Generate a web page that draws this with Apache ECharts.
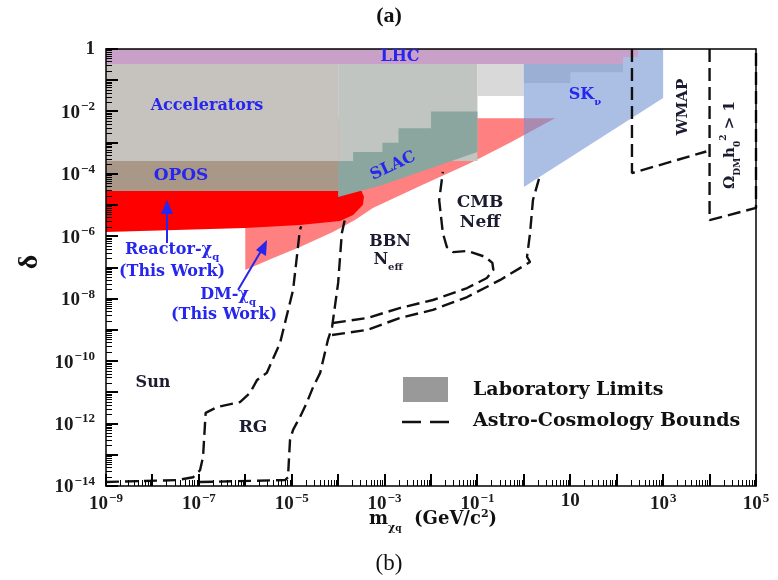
<!DOCTYPE html>
<html><head><meta charset="utf-8">
<script src="https://cdn.jsdelivr.net/npm/echarts@6/dist/echarts.min.js"></script>
<style>html,body{margin:0;padding:0;background:#fff}#c{width:778px;height:580px}</style>
</head><body><div id="c"></div>
<script>
// ---------- axes ----------
const xMin = 1e-9, xMax = 1e5, yMin = 1e-14, yMax = 1;
const xLabelExps = [-9, -7, -5, -3, -1, 1, 3, 5];
const yLabelExps = [0, -2, -4, -6, -8, -10, -12, -14];

// ---------- laboratory limits: [mass (GeV/c^2), delta] ----------
const lhcRegion = [[1e-9,1],[287,1],[287,0.55],[136,0.55],[136,0.33],[1e-9,0.33]];
const acceleratorsRegion = [[1e-9,0.33],[1e-4,0.33],[1e-4,2.6e-4],[1e-9,2.6e-4]];
const oposRegion = [[1e-9,2.6e-4],[1e-4,2.6e-4],[1e-4,2.8e-5],[1e-9,2.8e-5]];
const slacUpperRegion = [[1e-4,0.33],[0.1,0.33],[0.1,2.6e-4],[1e-4,2.6e-4]];
const slacRegion = [[1e-4,2.6e-4],[2.1e-4,2.6e-4],[2.1e-4,5e-4],[9e-4,5e-4],[9e-4,1e-3],[2e-3,1e-3],[2e-3,2.9e-3],[1e-2,2.9e-3],[1e-2,1e-2],[0.1,1e-2],[0.1,5e-4],[9e-4,4.4e-5],[1e-4,1.8e-5]];
const highMassRegion = [[0.1,0.33],[136,0.33],[136,0.18],[10,0.18],[10,0.081],[1,0.081],[1,0.031],[0.1,0.031]];
const skRegion = [[1,1],[1000,1],[1000,2.7e-2],[1,3.8e-5]];
const reactorRegion = [[1e-9,2.8e-5],[3.2e-4,2.8e-5],[3.6e-4,1.8e-5],[3.4e-4,1e-5],[2.1e-4,4.8e-6],[1.1e-4,3.1e-6],[1.5e-5,2.3e-6],[1e-6,1.84e-6],[1e-9,1.37e-6]];
const dmRegion = [[1e-6,6.1e-3],[1e-6,8.3e-8],[4e-6,2e-7],[1.5e-5,4.5e-7],[7.7e-5,1.37e-6],[2.3e-4,3.3e-6],[5.6e-4,8.1e-6],[5.8e-3,4.1e-5],[6.9e-2,2.2e-4],[0.5,1e-3],[4.7,6.1e-3]];

// ---------- astro-cosmology bounds ----------
const sunBound = [[1e-9,1.34e-14],[3.4e-8,1.55e-14],[7.5e-8,1.9e-14],[1.06e-7,3.2e-14],[1.23e-7,8.5e-14],[1.4e-7,2.2e-12],[2.5e-7,3.4e-12],[7.7e-7,4.9e-12],[1.26e-6,9.5e-12],[1.8e-6,2.5e-11],[2.9e-6,4.2e-11],[5.6e-6,3.8e-10],[1.07e-5,1.9e-8],[1.5e-5,1.6e-6],[1.6e-5,2.1e-6]];
const rgBound = [[1.06e-7,1.34e-14],[7.2e-6,1.55e-14],[8.3e-6,1.9e-14],[9.2e-6,3e-13],[1.07e-5,6.3e-13],[1.5e-5,1.6e-12],[2.1e-5,4.6e-12],[2.9e-5,1.5e-11],[4.1e-5,4.2e-11],[6e-5,4.7e-10],[7.4e-5,1.24e-9],[1e-4,3.2e-8],[1.2e-4,1.26e-6],[1.45e-4,4.5e-6]];
const bbnUpper = [[7.7e-5,1.66e-9],[4.2e-4,2.4e-9],[2.1e-3,5e-9],[1.1e-2,9.1e-9],[6e-2,2.2e-8],[0.16,4.6e-8],[0.22,8.3e-8],[0.21,1.4e-7],[0.146,2.2e-7],[6e-2,3.4e-7],[3e-2,3.1e-7],[2.2e-2,4.5e-7],[1.8e-2,1.26e-6],[1.5e-2,1.45e-5],[1.8e-2,1.15e-4]];
const bbnLower = [[7.4e-5,6.9e-10],[4.2e-4,1e-9],[2.1e-3,2.4e-9],[1.1e-2,4.4e-9],[6e-2,1.13e-8],[0.31,4e-8],[1.36,1.5e-7],[1.17,2.2e-7],[1.36,1.26e-6],[1.57,1.45e-5],[2.2,8.5e-5]];
const wmapBound = [[213,1],[213,1.06e-4],[8500,5.2e-4]];
const omegaBound = [[1e4,1],[1e4,3.3e-6],[1e5,8.1e-6],[1e5,1]];

const SERIF = '"Liberation Serif","DejaVu Serif",serif';
const WIDE = '"DejaVu Serif","Liberation Serif",serif';
const BLUE = '#2626ee';
const DARK = '#1c1c30';

function region(name, pts, fill, z) {
  return {
    type: 'custom', name, coordinateSystem: 'cartesian2d', z, silent: true, clip: false,
    data: [pts[0]],
    renderItem: (params, api) => ({
      type: 'polygon',
      shape: { points: pts.map(p => api.coord(p)) },
      style: { fill: fill, stroke: null }
    })
  };
}
function bound(name, pts) {
  return {
    type: 'line', name, data: pts, showSymbol: false, symbol: 'none', z: 6, silent: true,
    lineStyle: { color: '#111', width: 2.4, type: [13, 6] }
  };
}
function powLabel(v, show) {
  const e = Math.round(Math.log10(v));
  if (show.indexOf(e) < 0) return '';
  if (e === 0) return '{b|1}';
  if (e === 1) return '{b|10}';
  return '{b|10}{e|' + (e < 0 ? '\u2212' : '') + Math.abs(e) + '}';
}
const tickRich = {
  b: { fontFamily: SERIF, fontWeight: 'bold', fontSize: 19, color: '#1a1a1a', verticalAlign: 'bottom' },
  e: { fontFamily: SERIF, fontWeight: 'bold', fontSize: 13, color: '#1a1a1a', verticalAlign: 'bottom', padding: [0, 0, 9, 1] }
};

// tick positions (decades with 2..9 subdivisions) along each log axis
const xTickVals = [], yTickVals = [];
for (let d = -9; d <= 5; d++)
  for (let k = 1; k <= 9; k++) { const v = k * Math.pow(10, d); if (v <= xMax * 1.0001) xTickVals.push(v); }
for (let d = -14; d <= 0; d++)
  for (let k = 1; k <= 9; k++) { const v = k * Math.pow(10, d); if (v <= yMax * 1.0001) yTickVals.push(v); }

// ticks drawn as small filled rectangles placed through the axes' log scales
function tickRect(horizontal, pixel, edge, major) {
  const len = major ? 12 : 6, th = major ? 2 : 1;
  const c = Math.round(pixel) - (major ? 1 : 0);
  return horizontal
    ? { x: c, y: edge - len, width: th, height: len }
    : { x: edge, y: c, width: len, height: th };
}
function tickSeries(horizontal) {
  const vals = horizontal ? xTickVals : yTickVals;
  return {
    type: 'custom', coordinateSystem: 'cartesian2d', zlevel: 1, z: 50, silent: true, clip: false,
    data: [[1e-2, 1e-7]],
    renderItem: (params, api) => {
      const cs = params.coordSys;
      const children = vals.map((v, i) => {
        const major = (i % 9) === 0;
        const shape = horizontal
          ? tickRect(true, api.coord([v, 1e-7])[0], Math.round(cs.y + cs.height), major)
          : tickRect(false, api.coord([1e-2, v])[1], Math.round(cs.x), major);
        return { type: 'rect', shape, style: { fill: '#000', stroke: null } };
      });
      return { type: 'group', children };
    }
  };
}

function txt(x, y, text, size, color, opts) {
  opts = opts || {};
  const fam = opts.family || WIDE;
  const base = { fontFamily: fam, fontWeight: opts.weight || 'bold', fontSize: size, fill: color, color: color };
  return {
    type: 'text', x, y, z: 30, rotation: opts.rot || 0, silent: true,
    style: {
      text, fontFamily: fam, fontWeight: opts.weight || 'bold', fontSize: size, fill: color,
      align: opts.align || 'center', verticalAlign: 'middle',
      rich: {
        b: Object.assign({}, base, { verticalAlign: 'bottom', padding: [0, 0, 5, 0] }),
        sub: Object.assign({}, base, { fontSize: Math.round(size * 0.62), verticalAlign: 'bottom' }),
        ssub: Object.assign({}, base, { fontSize: Math.round(size * 0.5), verticalAlign: 'bottom' }),
        sup: Object.assign({}, base, { fontSize: Math.round(size * 0.62), verticalAlign: 'bottom', padding: [0, 0, 14, 0] })
      }
    }
  };
}

const labels = [
  txt(389, 16, '(a)', 22, '#111', { family: SERIF }),
  txt(389, 564, '(b)', 23, '#111', { weight: 'normal', family: SERIF }),
  txt(400, 57, 'LHC', 16, BLUE),
  txt(207, 106, 'Accelerators', 16, BLUE),
  txt(181, 176, 'OPOS', 17, BLUE),
  txt(393, 166, 'SLAC', 16, BLUE, { rot: 25 * Math.PI / 180 }),
  txt(585, 97, '{b|SK}{sub|\u03bd}', 16, BLUE),
  txt(683, 107, 'WMAP', 15, DARK, { rot: Math.PI / 2 }),
  txt(731, 145, '{b|\u03a9}{sub|DM}{b|h}{sub|0}{sup|2}{b| > 1}', 15, DARK, { rot: Math.PI / 2 }),
  txt(480, 203, 'CMB', 17, DARK),
  txt(480, 223, 'Neff', 17, DARK),
  txt(390, 242, 'BBN', 16, DARK),
  txt(388, 262, '{b|N}{sub|eff}', 16, DARK),
  txt(153, 383, 'Sun', 16, DARK),
  txt(253, 428, 'RG', 17, DARK),
  txt(172, 252, '{b|Reactor-\u03c7}{sub|q}', 16, BLUE),
  txt(172, 272, '(This Work)', 16, BLUE),
  txt(228, 297, '{b|DM-\u03c7}{sub|q}', 16, BLUE),
  txt(224, 315, '(This Work)', 16, BLUE),
  { type: 'line', z: 30, shape: { x1: 167, y1: 243, x2: 167, y2: 212 }, style: { stroke: BLUE, lineWidth: 2 } },
  { type: 'polygon', z: 30, shape: { points: [[167, 200], [161, 214], [173, 214]] }, style: { fill: BLUE } },
  { type: 'line', z: 30, shape: { x1: 238, y1: 290, x2: 261, y2: 251 }, style: { stroke: BLUE, lineWidth: 2 } },
  { type: 'polygon', z: 30, shape: { points: [[267, 240], [256, 250], [266, 256]] }, style: { fill: BLUE } },
  { type: 'rect', z: 30, shape: { x: 403, y: 377, width: 45, height: 25 }, style: { fill: '#999999' } },
  txt(473, 390, 'Laboratory Limits', 19, '#111', { align: 'left' }),
  { type: 'line', z: 30, shape: { x1: 402, y1: 422, x2: 456, y2: 422 }, style: { stroke: '#111', lineWidth: 2.5, lineDash: [19, 9] } },
  txt(473, 421, 'Astro-Cosmology Bounds', 19, '#111', { align: 'left' }),
  txt(30, 262, '\u03b4', 28, '#111', { rot: Math.PI / 2, family: SERIF }),
  txt(433, 521, '{b|m}{sub|\u03c7}{ssub|q}{b|  (GeV/c}{sup|2}{b|)}', 18, '#111')
];

const chart = echarts.init(document.getElementById('c'), null, { renderer: 'canvas' });
chart.setOption({
  animation: false,
  backgroundColor: '#fff',
  grid: { left: 106, right: 22, top: 49, bottom: 94 },
  xAxis: [{
    type: 'log', logBase: 10, min: xMin, max: xMax, interval: 1, splitNumber: 14, z: 10,
    axisLine: { show: true, onZero: false, lineStyle: { color: '#000', width: 1.5 } },
    axisTick: { show: false },
    splitLine: { show: false },
    axisLabel: { margin: 6, formatter: v => powLabel(v, xLabelExps), rich: tickRich, showMinLabel: true, showMaxLabel: true, hideOverlap: false }
  }, {
    type: 'log', logBase: 10, min: xMin, max: xMax, position: 'top', z: 10,
    axisLine: { show: true, onZero: false, lineStyle: { color: '#000', width: 1.5 } },
    axisTick: { show: false }, axisLabel: { show: false }, splitLine: { show: false }
  }],
  yAxis: [{
    type: 'log', logBase: 10, min: yMin, max: yMax, interval: 1, splitNumber: 14, z: 10,
    axisLine: { show: true, onZero: false, lineStyle: { color: '#000', width: 1.5 } },
    axisTick: { show: false },
    splitLine: { show: false },
    axisLabel: { margin: 11, formatter: v => powLabel(v, yLabelExps), rich: tickRich, showMinLabel: true, showMaxLabel: true, hideOverlap: false }
  }, {
    type: 'log', logBase: 10, min: yMin, max: yMax, position: 'right', z: 10,
    axisLine: { show: true, onZero: false, lineStyle: { color: '#000', width: 1.5 } },
    axisTick: { show: false }, axisLabel: { show: false }, splitLine: { show: false }
  }],
  series: [
    region('DM-chi_q', dmRegion, '#ff8080', 2),
    region('Reactor-chi_q', reactorRegion, '#ff0000', 2),
    region('Accelerators', acceleratorsRegion, '#c6c2be', 2),
    region('OPOS', oposRegion, '#a99888', 2),
    region('SLAC upper', slacUpperRegion, '#c0c5c1', 2),
    region('SLAC', slacRegion, '#8ba69e', 2),
    region('Beam dump', highMassRegion, '#d9d9d9', 2),
    region('SK_nu', skRegion, 'rgba(110,145,210,0.58)', 3),
    region('LHC', lhcRegion, '#c8a0c8', 4),
    bound('Sun', sunBound),
    bound('RG', rgBound),
    bound('BBN upper', bbnUpper),
    bound('BBN lower', bbnLower),
    bound('WMAP', wmapBound),
    bound('Omega', omegaBound),
    tickSeries(true),
    tickSeries(false)
  ],
  graphic: labels
});

// same ticks again through the graphic layer (filled rects), positioned with the chart's own scale conversion
try {
  const toPx = v => chart.convertToPixel({ xAxisIndex: 0, yAxisIndex: 0 }, v);
  const origin = toPx([xMin, yMin]);
  const extra = [];
  xTickVals.forEach((v, i) => extra.push({ type: 'rect', zlevel: 1, z: 60, silent: true, shape: tickRect(true, toPx([v, yMin])[0], Math.round(origin[1]), i % 9 === 0), style: { fill: '#000' } }));
  yTickVals.forEach((v, i) => extra.push({ type: 'rect', zlevel: 1, z: 60, silent: true, shape: tickRect(false, toPx([xMin, v])[1], Math.round(origin[0]), i % 9 === 0), style: { fill: '#000' } }));
  chart.setOption({ graphic: labels.concat(extra) });
} catch (e) { /* ticks already drawn by the custom series */ }
</script>
</body></html>
